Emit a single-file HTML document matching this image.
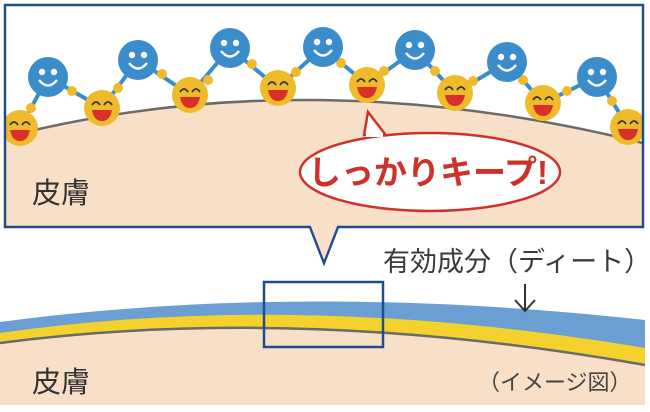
<!DOCTYPE html>
<html><head><meta charset="utf-8"><style>
html,body{margin:0;padding:0;background:#fff;}
svg{display:block;}
text{font-family:"Liberation Sans","Noto Sans CJK JP",sans-serif;}
</style></head><body>
<svg width="650" height="412" viewBox="0 0 650 412" xmlns="http://www.w3.org/2000/svg">
<defs>
<clipPath id="bx"><rect x="5" y="5" width="638" height="222"/></clipPath>
<g id="blue"><circle r="20" fill="#3a8ccb"/><circle cx="-6" cy="-5" r="3.2" fill="#fff"/><circle cx="6" cy="-5" r="3.2" fill="#fff"/><path d="M-9,3 Q0,14 9,3" stroke="#fff" stroke-width="2.5" fill="none"/></g>
<g id="yel"><circle r="18" fill="#f0bb2a"/><path d="M-10,-3 Q-6,-9 -2,-3 M2,-3 Q6,-9 10,-3" stroke="#333" stroke-width="1.8" fill="none"/><path d="M-10,2 L10,2 Q8,13 0,13 Q-8,13 -10,2Z" fill="#d9302a"/></g>
</defs>
<g clip-path="url(#bx)">
<rect x="5" y="5" width="638" height="222" fill="#fff"/>
<path d="M5,137 Q310,60 643,143 L643,230 L5,230Z" fill="#f7dfc8"/>
<path d="M5,137 Q310,60 643,143" stroke="#6a6a6a" stroke-width="2.5" fill="none"/>
<g stroke-width="4" fill="none">
<path d="M20,128 L48,77 L102,108 L138,60 L190,95 L230,48 L278,88 L323,47 L367,85 L415,50 L455,93 L507,62 L543,103 L597,77 L628,127" stroke="#3a8ccb"/>
</g>
<g fill="#f0bb2a">
<circle cx="31" cy="108" r="5"/><circle cx="72" cy="91" r="5"/><circle cx="118" cy="88" r="5"/><circle cx="162" cy="74" r="5"/><circle cx="208" cy="80" r="5"/><circle cx="252" cy="64" r="5"/><circle cx="296" cy="72" r="5"/><circle cx="341" cy="63" r="5"/><circle cx="384" cy="71" r="5"/><circle cx="435" cy="71" r="5"/><circle cx="473" cy="81" r="5"/><circle cx="523" cy="80" r="5"/><circle cx="567" cy="91" r="5"/><circle cx="612" cy="101" r="5"/>
</g>
<use href="#blue" x="48" y="77"/><use href="#blue" x="138" y="60"/><use href="#blue" x="230" y="48"/><use href="#blue" x="323" y="47"/><use href="#blue" x="415" y="50"/><use href="#blue" x="507" y="62"/><use href="#blue" x="597" y="77"/>
<use href="#yel" x="20" y="128"/><use href="#yel" x="102" y="108"/><use href="#yel" x="190" y="95"/><use href="#yel" x="278" y="88"/><use href="#yel" x="367" y="85"/><use href="#yel" x="455" y="93"/><use href="#yel" x="543" y="103"/><use href="#yel" x="628" y="127"/>
<path d="M368,112 L385,134 L364,135Z" fill="#fff" stroke="#d0302a" stroke-width="2.5"/>
<ellipse cx="430" cy="172" rx="130" ry="39" fill="#fff" stroke="#d0302a" stroke-width="2.5"/>
<path d="M366,135 L383,135" stroke="#fff" stroke-width="4"/>
<text x="428" y="184" font-size="33" font-weight="bold" fill="#d0302a" text-anchor="middle">しっかりキープ!</text>
<text x="32" y="203" font-size="29" fill="#333">皮膚</text>
</g>
<path d="M5,5 H643 V227 H338 L324,263 L310,227 H5Z" fill="none" stroke="#1f4e8a" stroke-width="2.5" stroke-linejoin="miter"/>
<path d="M311,226 L324,260 L337,226Z" fill="#f7dfc8"/>
<path d="M0,343 Q300,304 645,365 L645,405 L0,405Z" fill="#f7dfc8"/>
<path d="M0,322 Q300,282 645,320 L645,365 Q300,304 0,343Z" fill="#6b9fd4"/>
<path d="M0,333 Q300,290 645,348 L645,365 Q300,304 0,343Z" fill="#f3d22e"/>
<path d="M0,343 Q300,304 645,365" stroke="#6a6a6a" stroke-width="2.5" fill="none"/>
<rect x="264" y="282" width="119" height="65" fill="none" stroke="#1f4e8a" stroke-width="2.5"/>
<text x="383" y="271" font-size="27" fill="#3a3a3a">有効成分（ディート）</text>
<path d="M525,284 V311 M515,300 L525,311 L535,300" stroke="#333" stroke-width="2" fill="none"/>
<text x="32" y="392" font-size="29" fill="#333">皮膚</text>
<text x="478" y="390" font-size="22" fill="#444">（イメージ図）</text>
</svg>
</body></html>
